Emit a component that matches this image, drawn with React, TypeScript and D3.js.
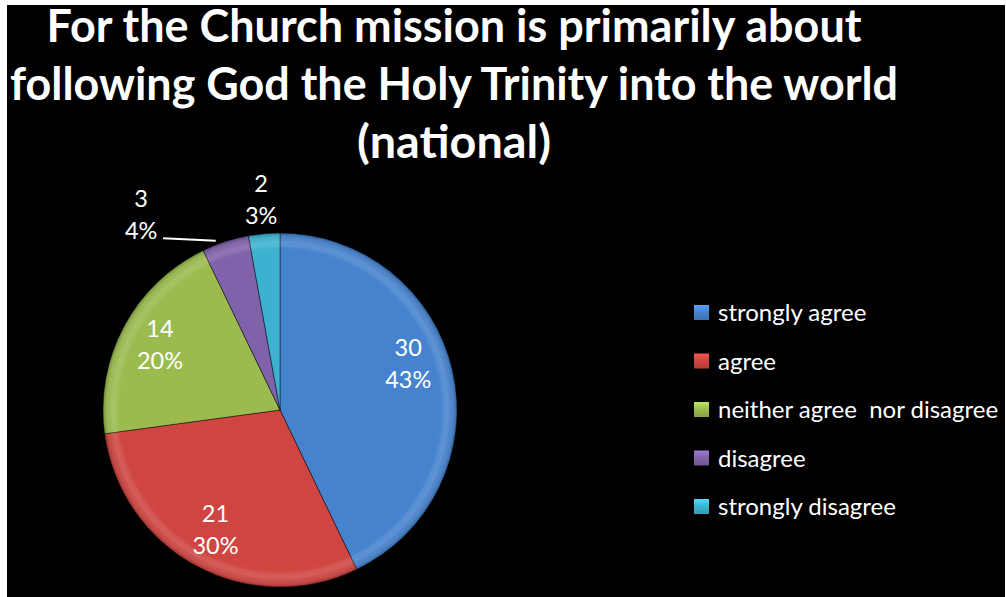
import React from "react";
import * as d3 from "d3";

const categories = ["strongly agree", "agree", "neither agree  nor disagree", "disagree", "strongly disagree"];
const values = [30, 21, 14, 3, 2];
const percentLabels = ["43%", "30%", "20%", "4%", "3%"];
const colors = ["#4683CE", "#CF4541", "#9BBB4E", "#8062AA", "#3DB2D0"];
const titleLines = [
  "For the Church mission is primarily about",
  "following God the Holy Trinity into the world",
  "(national)",
];

const W = 1006;
const H = 597;
const cx = 280;
const cy = 410;
const R = 177;
// layout nudge of label angle (degrees), mimicking best-fit placement
const labelAngleNudge = [-7, 0, 0, 0, 0];
const titleWidths = [815, 888, 194];

export default function App() {
  const pie = d3.pie<number>().sort(null).value((d) => d)(values);
  const arc = d3.arc<d3.PieArcDatum<number>>().innerRadius(0).outerRadius(R);
  const rim = d3.arc<d3.PieArcDatum<number>>().innerRadius(R - 14).outerRadius(R - 2);
  const total = d3.sum(values);

  type Lab = { x: number; y: number; inside: boolean; leader?: [number, number, number, number] };
  const labs: Lab[] = pie.map((p, i) => {
    const mid = (p.startAngle + p.endAngle) / 2 + (labelAngleNudge[i] * Math.PI) / 180;
    const frac = p.value / total;
    const inside = frac > 0.08;
    const rr = inside ? R * 0.77 : R * 1.19;
    return { x: rr * Math.sin(mid), y: -rr * Math.cos(mid), inside };
  });
  for (let i = labs.length - 2; i >= 0; i--) {
    const a = labs[i];
    const b = labs[i + 1];
    if (!a.inside && !b.inside && Math.abs(a.x - b.x) < 60) {
      const mid = (pie[i].startAngle + pie[i].endAngle) / 2;
      a.x = b.x - 120;
      a.y = b.y + 15;
      a.leader = [a.x + 22, a.y + 23, (R + 2) * Math.sin(mid) - 9, -(R + 2) * Math.cos(mid) + 1];
    }
  }

  const legendX = 694;
  const legendY0 = 313;
  const legendStep = 48.5;

  return (
    <svg width={W} height={H} style={{ position: "absolute", left: 0, top: 0 }}>
      <defs>
        <radialGradient id="bevel" cx={cx} cy={cy} r={R} gradientUnits="userSpaceOnUse">
          <stop offset="0" stopColor="#fff" stopOpacity={0} />
          <stop offset="0.9" stopColor="#fff" stopOpacity={0} />
          <stop offset="0.95" stopColor="#fff" stopOpacity={0.08} />
          <stop offset="0.975" stopColor="#000" stopOpacity={0.03} />
          <stop offset="1" stopColor="#000" stopOpacity={0.2} />
        </radialGradient>
        {colors.map((c, i) => (
          <linearGradient key={i} id={`lg${i}`} x1="0" y1="0" x2="0" y2="1">
            <stop offset="0" stopColor={d3.color(c)!.brighter(0.6).toString()} />
            <stop offset="0.5" stopColor={c} />
            <stop offset="1" stopColor={d3.color(c)!.darker(0.4).toString()} />
          </linearGradient>
        ))}
      </defs>
      <rect x={0} y={0} width={W} height={H} fill="#fff" />
      <rect x={7} y={5} width={W - 8} height={H - 5} fill="#000" />

      {titleLines.map((t, i) => (
        <text
          key={i}
          x={454}
          y={42 + i * 58}
          textAnchor="middle"
          fill="#fff"
          fontFamily="Lato, 'Open Sans', sans-serif"
          fontWeight="bold"
          fontSize={45}
          textLength={titleWidths[i]}
          lengthAdjust="spacingAndGlyphs"
        >
          {t}
        </text>
      ))}

      <g transform={`translate(${cx},${cy})`}>
        {pie.map((p, i) => (
          <path key={i} d={arc(p) || ""} fill={colors[i]} stroke="rgba(0,0,0,0.45)" strokeWidth={1} />
        ))}
        {pie.map((p, i) => (
          <path key={"h" + i} d={rim(p) || ""} fill="#fff" fillOpacity={0.06} />
        ))}
      </g>
      <circle cx={cx} cy={cy} r={R} fill="url(#bevel)" />

      <g transform={`translate(${cx},${cy})`} fontFamily="Lato, 'Open Sans', sans-serif" fontSize={23.5} fill="#fff">
        {labs.map((l, i) => (
          <g key={i}>
            {l.leader && (
              <line x1={l.leader[0]} y1={l.leader[1]} x2={l.leader[2]} y2={l.leader[3]} stroke="#fff" strokeWidth={2} />
            )}
            <text x={l.x} y={l.y - 8} textAnchor="middle">
              {values[i]}
            </text>
            <text x={l.x} y={l.y + 24} textAnchor="middle">
              {percentLabels[i]}
            </text>
          </g>
        ))}
      </g>

      <g fontFamily="Lato, 'Open Sans', sans-serif" fontSize={24} fill="#fff">
        {categories.map((c, i) => (
          <g key={i} transform={`translate(${legendX},${legendY0 + i * legendStep})`}>
            <rect x={0} y={-8} width={15} height={15} fill={`url(#lg${i})`} />
            <text x={24} y={8} style={{ whiteSpace: "pre" }}>
              {c}
            </text>
          </g>
        ))}
      </g>
    </svg>
  );
}
